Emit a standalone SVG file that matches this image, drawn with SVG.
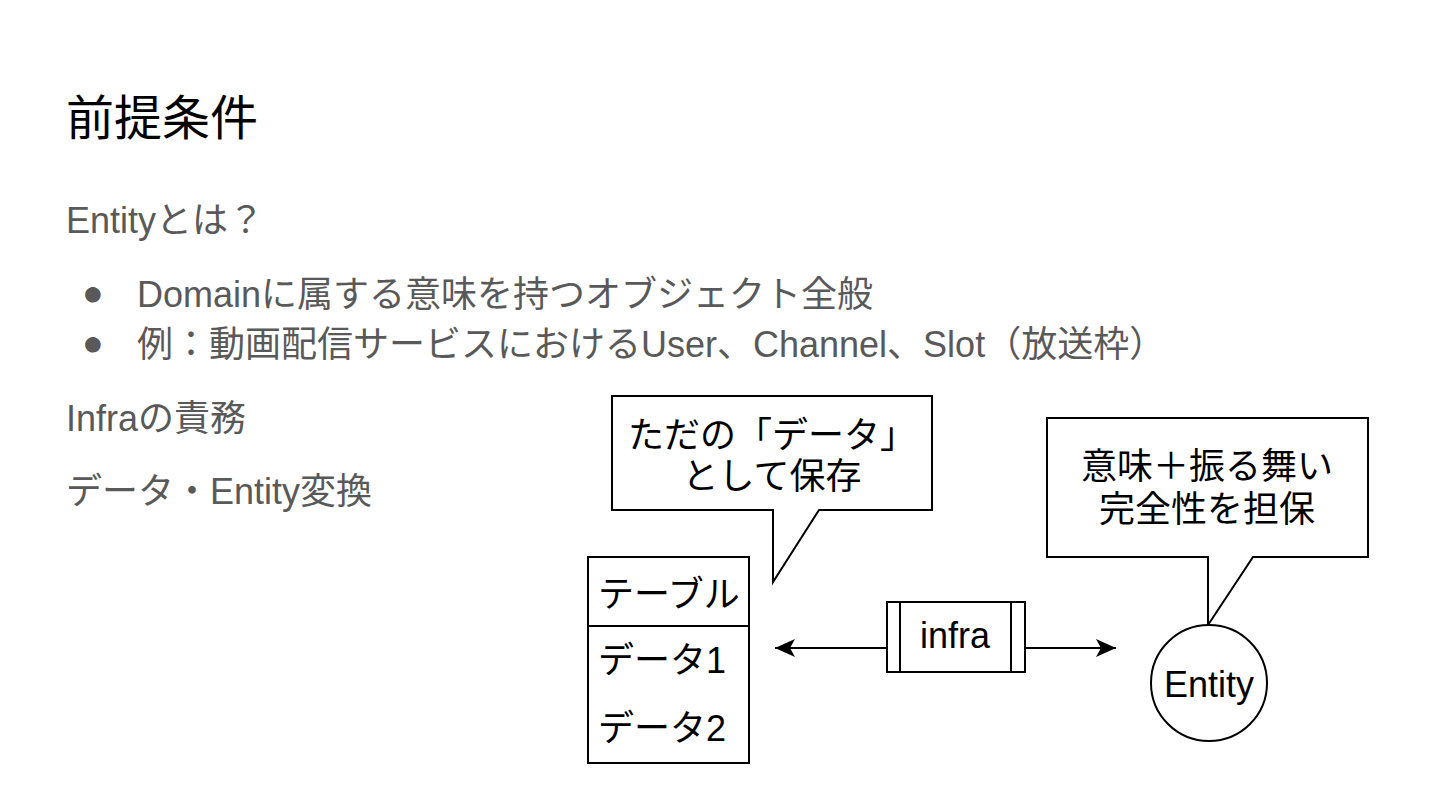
<svg xmlns="http://www.w3.org/2000/svg" width="1440" height="810" viewBox="0 0 1440 810">
<style>
.t{font-family:"Liberation Sans","Noto Sans CJK JP",sans-serif}
.title{font-size:48px;fill:#000}
.body{font-size:36px;fill:#595959}
.dg{font-size:36px;fill:#000}
.sh{fill:#fff;stroke:#000;stroke-width:2}
.ln{fill:none;stroke:#000;stroke-width:2}
</style>
<defs>
<marker id="arr" viewBox="0 0 22 22" refX="21" refY="11" markerWidth="22" markerHeight="22" orient="auto" markerUnits="userSpaceOnUse"><path d="M21,11 L1,2 L6,11 L1,20 Z" fill="#000"/></marker>
</defs>
<rect width="1440" height="810" fill="#fff"/>
<g id="text">
<text class="t title" x="66" y="135">前提条件</text>
<text class="t body" x="66" y="233">Entityとは？</text>
<text class="t body" x="82" y="305" font-size="26">●</text>
<text class="t body" x="137" y="307">Domainに属する意味を持つオブジェクト全般</text>
<text class="t body" x="82" y="355" font-size="26">●</text>
<text class="t body" x="137" y="357">例：動画配信サービスにおけるUser、Channel、Slot（放送枠）</text>
<text class="t body" x="66" y="431">Infraの責務</text>
<text class="t body" x="66" y="504">データ・Entity変換</text>
</g>
<g id="connectors">
<path class="ln" d="M887,648 H775" marker-end="url(#arr)"/>
<path class="ln" d="M1025,648 H1116" marker-end="url(#arr)"/>
</g>
<g id="callout-data">
<path class="sh" d="M612,396 H932 V510 H819 L773,582 V510 H612 Z"/>
<text class="t dg" x="772" y="448" text-anchor="middle">ただの「データ」</text>
<text class="t dg" x="772" y="489" text-anchor="middle">として保存</text>
</g>
<g id="table">
<rect class="sh" x="588" y="557" width="161" height="206"/>
<path class="ln" d="M588,626 H749"/>
<text class="t dg" x="598" y="607">テーブル</text>
<text class="t dg" x="598" y="673">データ1</text>
<text class="t dg" x="598" y="741">データ2</text>
</g>
<g id="infra">
<rect class="sh" x="887" y="602" width="138" height="70"/>
<path class="ln" d="M900,602 V672 M1011,602 V672"/>
<text class="t dg" x="955" y="648" text-anchor="middle">infra</text>
</g>
<g id="callout-entity">
<path class="sh" d="M1047,418 H1368 V557 H1253 L1208,625 V557 H1047 Z"/>
<text class="t dg" x="1207" y="479" text-anchor="middle">意味＋振る舞い</text>
<text class="t dg" x="1207" y="522" text-anchor="middle">完全性を担保</text>
</g>
<g id="entity">
<circle class="sh" cx="1209" cy="683" r="58"/>
<text class="t dg" x="1209" y="697" text-anchor="middle">Entity</text>
</g>
</svg>
